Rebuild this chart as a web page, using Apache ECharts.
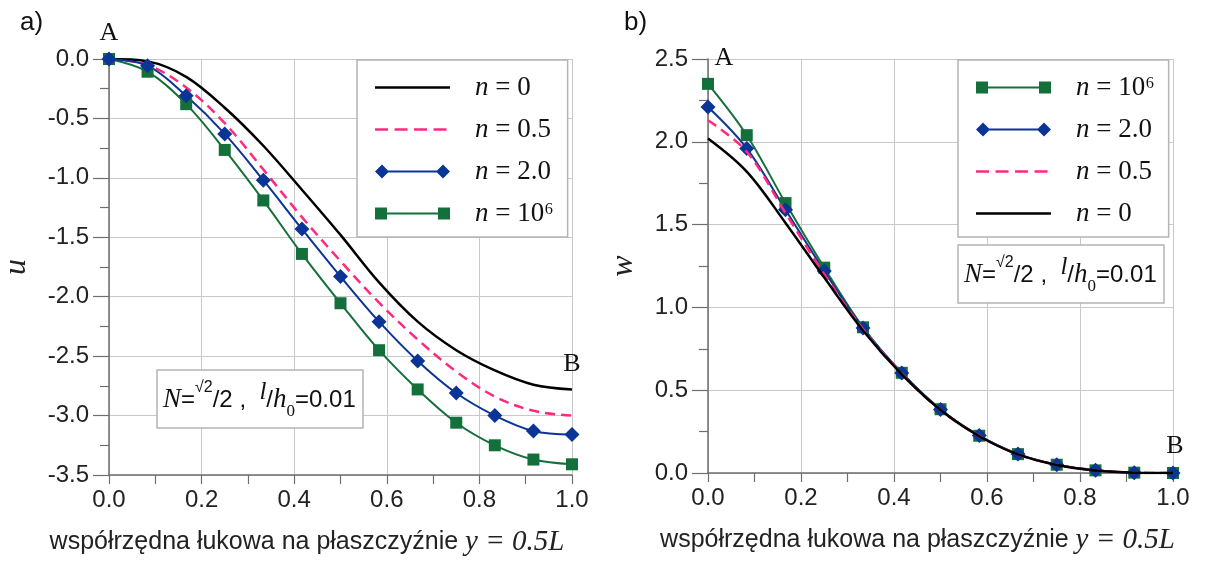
<!DOCTYPE html>
<html><head><meta charset="utf-8">
<script src="https://cdn.jsdelivr.net/npm/echarts@6/dist/echarts.min.js"></script>
<style>html,body{margin:0;padding:0;background:#fff}#c{width:1208px;height:567px}</style>
</head><body><div id="c"></div>
<script>
// ---- data ----
const X = [0, 0.0833, 0.1667, 0.25, 0.3333, 0.4167, 0.5, 0.5833, 0.6667, 0.75, 0.8333, 0.9167, 1.0];
// panel a) : u
const u_n0  = [0, -0.02, -0.15, -0.41, -0.73, -1.10, -1.48, -1.88, -2.21, -2.45, -2.62, -2.74, -2.78];
const u_n05 = [0, -0.05, -0.24, -0.54, -0.93, -1.33, -1.70, -2.05, -2.36, -2.63, -2.84, -2.96, -3.00];
const u_n2  = [0, -0.056, -0.31, -0.63, -1.02, -1.43, -1.83, -2.21, -2.54, -2.81, -3.00, -3.13, -3.16];
const u_n6  = [0, -0.107, -0.38, -0.765, -1.19, -1.64, -2.055, -2.45, -2.78, -3.06, -3.25, -3.37, -3.41];
// panel b) : w
const w_n6  = [2.35, 2.04, 1.63, 1.24, 0.88, 0.605, 0.385, 0.225, 0.114, 0.05, 0.016, 0.002, 0];
const w_n2  = [2.21, 1.96, 1.59, 1.22, 0.876, 0.604, 0.384, 0.226, 0.114, 0.05, 0.016, 0.002, 0];
const w_n05 = [2.13, 1.94, 1.57, 1.20, 0.87, 0.60, 0.38, 0.224, 0.113, 0.05, 0.016, 0.002, 0];
const w_n0  = [2.02, 1.82, 1.51, 1.18, 0.86, 0.595, 0.38, 0.222, 0.112, 0.048, 0.015, 0.002, 0];
const names = ['n = 0', 'n = 0.5', 'n = 2.0', 'n = 10⁶'];
const xTitle = 'współrzędna łukowa na płaszczyźnie ';
const xTitleVar = 'y = 0.5L';
const paramText = '{N|N}{e|=}{s|√2}{e|/2 ,  }{l|l}{e|/}{h|h}{b|0}{e|=0.01}';

// ---- styles ----
const SANS = 'Liberation Sans, Arial, sans-serif';
const SERIF = 'Liberation Serif, DejaVu Serif, Times New Roman, serif';
const C = {n0:'#000000', n05:'#ff2a7f', n2:'#0b3497', n6:'#14703a'};
const pairs = ys => X.map((x, i) => [x, ys[i]]);

// legend icon paths (75 x 14)
const corners = 'M0,0 L0.01,0 L0,0.01 Z M75,14 L74.99,14 L75,13.99 Z ';
const iconSolid = 'path://' + corners + 'M0,5.8 L75,5.8 L75,8.2 L0,8.2 Z';
let dash = 'path://' + corners;
for (let i = 0; i < 4; i++) { const a = i * 19.5, b = a + 13; dash += `M${a},5.8 L${b},5.8 L${b},8.2 L${a},8.2 Z `; }
const iconDash = dash;
const iconDiamond = 'path://' + corners + 'M0,7 L7,0 L14,7 L7,14 Z M7,6.1 L68,6.1 L68,7.9 L7,7.9 Z M61,7 L68,0 L75,7 L68,14 Z';
const iconSquare = 'path://' + corners + 'M0,1 L12,1 L12,13 L0,13 Z M12,6.1 L63,6.1 L63,7.9 L12,7.9 Z M63,1 L75,1 L75,13 L63,13 Z';
const iconOf = {'n = 0': iconSolid, 'n = 0.5': iconDash, 'n = 2.0': iconDiamond, 'n = 10⁶': iconSquare};

function xAxis(gi) {
  return {
    type: 'value', gridIndex: gi, min: 0, max: 1, interval: 0.2,
    axisLine: {onZero: false, lineStyle: {color: '#6e6e6e', width: 1.5}},
    axisTick: {length: 9, lineStyle: {color: '#6e6e6e', width: 1.2}},
    minorTick: {show: true, splitNumber: 2, length: 9, lineStyle: {color: '#6e6e6e', width: 1.2}},
    splitLine: {show: true, lineStyle: {color: '#c8c8c8', width: 1}},
    axisLabel: {fontSize: 24, color: '#222', fontFamily: SANS, margin: 13, formatter: v => v.toFixed(1)},
    name: '{a|' + xTitle + '}{b|' + xTitleVar + '}', nameLocation: 'middle', nameGap: 53,
    nameTextStyle: {padding: gi === 0 ? [0, 67, 0, 0] : [0, 46, 0, 0],
      rich: {a: {fontSize: 25, fontFamily: SANS, color: '#222'},
             b: {fontSize: 29, fontFamily: SERIF, fontStyle: 'italic', color: '#222'}}}
  };
}
function yAxis(gi, min, max, name, gap) {
  return {
    type: 'value', gridIndex: gi, min: min, max: max, interval: 0.5,
    axisLine: {show: true, onZero: false, lineStyle: {color: '#6e6e6e', width: 1.5}},
    axisTick: {show: true, length: 16, lineStyle: {color: '#6e6e6e', width: 1.2}},
    minorTick: {show: true, splitNumber: 2, length: 9, lineStyle: {color: '#6e6e6e', width: 1.2}},
    splitLine: {show: true, lineStyle: {color: '#c8c8c8', width: 1}},
    axisLabel: {fontSize: 24, color: '#222', fontFamily: SANS, margin: 20, formatter: v => v.toFixed(1)},
    name: name, nameLocation: 'middle', nameGap: gap, nameRotate: 90,
    nameTextStyle: {fontSize: 32, fontFamily: SERIF, fontStyle: 'italic', color: '#222'}
  };
}
function lineSeries(name, data, gi, color, opts) {
  return Object.assign({
    type: 'line', name: name, xAxisIndex: gi, yAxisIndex: gi, data: pairs(data),
    smooth: 0.35, showSymbol: false, symbol: 'none',
    lineStyle: {color: color, width: 2.5}, itemStyle: {color: color}, z: 3
  }, opts || {});
}
function markerSeries(name, data, gi, color, sym, size) {
  return {
    type: 'line', name: name, xAxisIndex: gi, yAxisIndex: gi, data: pairs(data),
    smooth: 0.35, symbol: sym, symbolSize: size, showAllSymbol: true,
    lineStyle: {color: color, width: 2}, itemStyle: {color: color, borderWidth: 0}, z: 4
  };
}
function mark(text, coord, offset) {
  return {coord: coord, symbol: 'circle', symbolSize: 1, itemStyle: {color: 'rgba(0,0,0,0)'},
    label: {show: true, position: 'inside', formatter: text, offset: offset,
      fontSize: 26, fontFamily: SERIF, color: '#111'}};
}
function legend(order, left, top) {
  return {
    orient: 'vertical', left: left, top: top, padding: [14, 14, 10, 18], itemGap: 15,
    itemWidth: 75, itemHeight: 14, borderColor: '#b4b4b4', borderWidth: 1.5, backgroundColor: '#fff',
    data: order.map(n => ({name: n, icon: iconOf[n]})),
    itemStyle: {borderWidth: 0},
    selectedMode: false,
    formatter: n => '{i|n}{t|' + n.slice(1) + '}',
    textStyle: {padding: [0, 0, 0, 20], width: 81,
      rich: {i: {fontSize: 27, fontFamily: SERIF, fontStyle: 'italic', color: '#111'},
             t: {fontSize: 27, fontFamily: SERIF, color: '#111'}}}
  };
}
const paramRich = {
  N: {fontSize: 27, fontFamily: SERIF, fontStyle: 'italic', fontWeight: 'normal', color: '#111'},
  e: {fontSize: 24, fontFamily: SANS, fontWeight: 'normal', color: '#111'},
  s: {fontSize: 16, fontFamily: SANS, fontWeight: 'normal', color: '#111', verticalAlign: 'top'},
  l: {fontSize: 25, fontFamily: SERIF, fontStyle: 'italic', fontWeight: 'normal', color: '#111', verticalAlign: 'top'},
  h: {fontSize: 27, fontFamily: SERIF, fontStyle: 'italic', fontWeight: 'normal', color: '#111'},
  b: {fontSize: 17, fontFamily: SERIF, fontWeight: 'normal', color: '#111', verticalAlign: 'bottom'}
};
function paramBox(left, top) {
  return {text: paramText, left: left, top: top, padding: [10, 8, 8, 6], borderColor: '#b4b4b4', borderWidth: 1.5,
    backgroundColor: '#fff', textStyle: {fontWeight: 'normal', lineHeight: 40, rich: paramRich}};
}

const blackA = lineSeries(names[0], u_n0, 0, C.n0);
blackA.markPoint = {data: [mark('A', [0, 0], [0, -26]), mark('B', [1, u_n0[12]], [0, -25])]};
const blackB = lineSeries(names[0], w_n0, 1, C.n0);
blackB.markPoint = {data: [mark('A', [0, 2.5], [16, -1]), mark('B', [1, 0], [2, -27])]};

const option = {
  backgroundColor: '#fff',
  animation: false,
  title: [
    {text: 'a)', left: 15, top: 5, textStyle: {fontSize: 26, fontFamily: SANS, fontWeight: 'normal', color: '#111'}},
    {text: 'b)', left: 619, top: 5, textStyle: {fontSize: 26, fontFamily: SANS, fontWeight: 'normal', color: '#111'}},
    paramBox(157, 370),
    paramBox(958, 245)
  ],
  legend: [legend(names, 357, 60), legend(names.slice().reverse(), 958, 60)],
  grid: [
    {left: 108, top: 59, width: 464, height: 416},
    {left: 708, top: 59, width: 465, height: 414}
  ],
  xAxis: [xAxis(0), xAxis(1)],
  yAxis: [yAxis(0, -3.5, 0, 'u', 76), yAxis(1, 0, 2.5, 'w', 68)],
  series: [
    markerSeries(names[3], u_n6, 0, C.n6, 'rect', 12),
    markerSeries(names[2], u_n2, 0, C.n2, 'diamond', 15),
    lineSeries(names[1], u_n05, 0, C.n05, {lineStyle: {color: C.n05, width: 2.5, type: [10, 6]}}),
    blackA,
    markerSeries(names[3], w_n6, 1, C.n6, 'rect', 12),
    markerSeries(names[2], w_n2, 1, C.n2, 'diamond', 15),
    lineSeries(names[1], w_n05, 1, C.n05, {lineStyle: {color: C.n05, width: 2.5, type: [10, 6]}, z: 5}),
    Object.assign(blackB, {z: 6})
  ]
};
echarts.init(document.getElementById('c'), null, {renderer: 'canvas'}).setOption(option);
</script>
</body></html>
